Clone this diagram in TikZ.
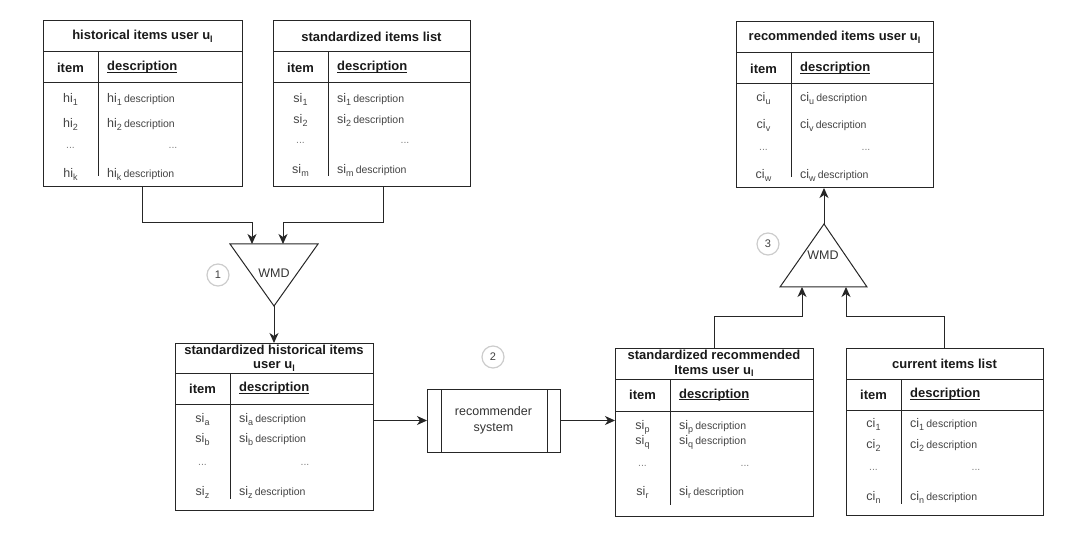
\documentclass[tikz,border=0pt]{standalone}
\usepackage{fontspec}
\setmainfont{Liberation Sans}
\usetikzlibrary{arrows.meta,calc}
\newcommand{\sbs}[1]{\raisebox{-0.4ex}{\fontsize{9}{9}\selectfont #1}}
\newcommand{\itm}[2]{\fontsize{12.5}{14}\selectfont #1\sbs{#2}}
\newcommand{\dsc}[2]{\fontsize{12.5}{14}\selectfont #1\sbs{#2}\,{\fontsize{10.5}{12}\selectfont description}}
\newcommand{\myul}[1]{\setbox0\hbox{#1}\rlap{\rule[-1.7pt]{\wd0}{1pt}}\box0}
\definecolor{lnc}{HTML}{262626}
\definecolor{rowc}{HTML}{444444}
\tikzset{
  tframe/.style={draw=lnc, line width=1pt, inner sep=0pt, outer sep=0pt, rectangle},
  tline/.style={draw=lnc, line width=1pt},
  hdr/.style={inner sep=0pt, font=\fontsize{13}{14.5}\selectfont\bfseries, text=black!90},
  ttl/.style={inner sep=0pt, align=center, font=\fontsize{13}{14.5}\selectfont\bfseries, text=black!90},
  rowtxt/.style={inner sep=0pt, text=rowc},
  dots/.style={inner sep=0pt, text=black!50, font=\fontsize{10.5}{10.5}\selectfont},
  arr/.style={draw=lnc, line width=1pt, -{Stealth[length=10pt,width=9pt,inset=3pt]}},
  numc/.style={circle, draw=black!20, line width=1.2pt, minimum size=22pt, inner sep=0pt, text=black!75, font=\fontsize{11}{11}\selectfont},
  wmd/.style={inner sep=0pt, text=black!80, font=\fontsize{12.5}{14}\selectfont},
  tri/.style={draw=lnc, line width=1pt, line join=miter}
}
% #1 name #2 x0 #3 y0 #4 x1 #5 ytitle #6 yhead #7 ybot #8 xcol #9 title
\newcommand{\mktable}[9]{%
  \node[tframe, anchor=north west, minimum width={(#4-#2)*1pt}, minimum height={(#7-#3)*1pt}] (#1) at (#2,#3) {};
  \draw[tline] (#2,#5) -- (#4,#5);
  \draw[tline] (#2,#6) -- (#4,#6);
  \draw[tline] (#8,#5) -- (#8,#7-11);
  \node[ttl] (#1-title) at ({(#2+#4)/2},{(#3+#5)/2}) {#9};
  \node[hdr] (#1-item) at ({(#2+#8)/2},{(#5+#6)/2}) {item};
  \node[hdr, anchor=west] (#1-desc) at (#8+9,{(#5+#6)/2}) {\myul{description}};
}
% #1 name #2 xitem #3 xdesc #4 y #5 base #6 sub
\newcommand{\trow}[6]{%
  \node[rowtxt, anchor=mid] (#1i) at (#2,#4) {\itm{#5}{#6}};
  \node[rowtxt, anchor=mid west] (#1d) at (#3,#4) {\dsc{#5}{#6}};
}
% #1 name #2 xitem #3 xdots #4 y
\newcommand{\drow}[4]{%
  \node[dots] (#1i) at (#2,#4) {...};
  \node[dots] (#1d) at (#3,#4) {...};
}
\begin{document}
\begin{tikzpicture}[x=1pt,y=-1pt]
\useasboundingbox (0,0) rectangle (1087,537);

% ---- tables ----
\mktable{T1}{43}{21}{242}{52}{83}{187}{98}{historical items user u\sbs{l}}
\trow{T1r1}{70.5}{107}{100}{hi}{1}
\trow{T1r2}{70.5}{107}{125}{hi}{2}
\drow{T1r3}{70.5}{173}{148}
\trow{T1r4}{70.5}{107}{175}{hi}{k}

\mktable{T2}{273}{21}{470}{52}{83}{187}{328}{standardized items list}
\trow{T2r1}{300.5}{337}{100}{si}{1}
\trow{T2r2}{300.5}{337}{121}{si}{2}
\drow{T2r3}{300.5}{405}{143}
\trow{T2r4}{300.5}{337}{171}{si}{m}

\mktable{T3}{736}{22}{933}{53}{84}{188}{791}{recommended items user u\sbs{l}}
\trow{T3r1}{763.5}{800}{99}{ci}{u}
\trow{T3r2}{763.5}{800}{126}{ci}{v}
\drow{T3r3}{763.5}{866}{150}
\trow{T3r4}{763.5}{800}{176}{ci}{w}

\mktable{T4}{175}{343}{373}{373}{404}{510}{230}{standardized historical items\\user u\sbs{l}}
\trow{T4r1}{202.5}{239}{420}{si}{a}
\trow{T4r2}{202.5}{239}{440}{si}{b}
\drow{T4r3}{202.5}{305}{465}
\trow{T4r4}{202.5}{239}{493}{si}{z}

\mktable{T5}{615}{348}{813}{379}{411}{516}{670}{standardized recommended\\Items user u\sbs{l}}
\trow{T5r1}{642.5}{679}{427}{si}{p}
\trow{T5r2}{642.5}{679}{442}{si}{q}
\drow{T5r3}{642.5}{745}{466}
\trow{T5r4}{642.5}{679}{493}{si}{r}

\mktable{T6}{846}{348}{1043}{379}{410}{515}{901}{current items list}
\trow{T6r1}{873.5}{910}{425}{ci}{1}
\trow{T6r2}{873.5}{910}{446}{ci}{2}
\drow{T6r3}{873.5}{976}{470}
\trow{T6r4}{873.5}{910}{498}{ci}{n}

% ---- WMD 1 ----
\coordinate (W1a) at (230,244);
\coordinate (W1b) at (318,244);
\coordinate (W1apex) at (274,306);
\draw[tri] (W1a) -- (W1b) -- (W1apex) -- cycle;
\node[wmd] (W1) at (274,273) {WMD};
\coordinate (W1in1) at (252,244);
\coordinate (W1in2) at (283,244);
\node[numc] (C1) at (218,275) {1};

% ---- WMD 3 ----
\coordinate (W3a) at (780,287);
\coordinate (W3b) at (867,287);
\coordinate (W3apex) at (824,224);
\draw[tri] (W3a) -- (W3b) -- (W3apex) -- cycle;
\node[wmd] (W3) at (823,255) {WMD};
\coordinate (W3in1) at (802,287);
\coordinate (W3in2) at (846,287);
\node[numc] (C3) at (768,244) {3};

% ---- recommender ----
\node[tframe, minimum width=133pt, minimum height=63pt, align=center, text=black!80,
      font=\fontsize{12.5}{16}\selectfont] (R) at (493.5,420.5) {recommender\\system};
\draw[tline] ([xshift=14pt]R.north west) -- ([xshift=14pt]R.south west);
\draw[tline] ([xshift=-13pt]R.north east) -- ([xshift=-13pt]R.south east);
\node[numc] (C2) at (493,357) {2};

% ---- connectors ----
\draw[arr] (T1.south) -- ++(0,36) -| (W1in1);
\draw[arr] ([xshift=11.5pt]T2.south) -- ++(0,36) -| (W1in2);
\draw[arr] (W1apex) -- (T4.north);
\draw[arr] (R.west -| T4.east) -- (R.west);
\draw[arr] (R.east) -- (R.east -| T5.west);
\draw[arr] (T5.north) -- ++(0,-31) -| (W3in1);
\draw[arr] (T6.north) -- ++(0,-31) -| (W3in2);
\draw[arr] (W3apex) -- (W3apex |- T3.south);
\end{tikzpicture}
\end{document}
